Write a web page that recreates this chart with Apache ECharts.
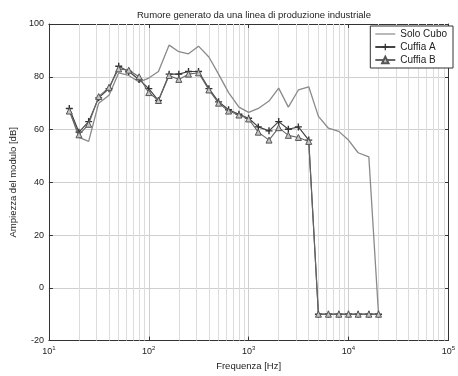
<!DOCTYPE html>
<html><head><meta charset="utf-8">
<script src="https://cdn.jsdelivr.net/npm/echarts@6/dist/echarts.min.js"></script>
<style>html,body{margin:0;padding:0;background:#fff}#c{width:458px;height:376px}</style>
</head><body><div id="c"></div>
<script>
const freqs = [16,20,25,31.5,40,50,63,80,100,125,160,200,250,315,400,500,630,800,1000,1250,1600,2000,2500,3150,4000,5000,6300,8000,10000,12500,16000,20000];
const soloCubo = [67.5,57,55.5,70,73,81.5,80.5,78,79.5,82,92,89.5,88.7,91.6,87.5,81,74,68.5,66.5,68,70.8,75.7,68.5,75,76.2,65,60.5,59.3,56,51.2,49.6,-10];
const cuffiaA = [68,59,63,72,75.5,84,82,79,75.5,71,81,81,82,82,75.5,70.5,67.5,65.8,64.3,61,59.5,63,60.1,61,56,-10,-10,-10,-10,-10,-10,-10];
const cuffiaB = [67,58,62,72.5,76,83,82.5,80,74,71,80.5,79,81,81.5,75,70,67,65.5,64,59,56,60.7,57.8,57,55.5,-10,-10,-10,-10,-10,-10,-10];
const yTicks = [-20,0,20,40,60,80,100];
const minorGrid = [];
[10,100,1000,10000].forEach(d=>{for(let k=2;k<=9;k++) minorGrid.push(k*d);});

const pair = (arr)=>freqs.map((f,i)=>[f,arr[i]]);
const font = '"Liberation Sans", Arial, sans-serif';
const chart = echarts.init(document.getElementById('c'), null, {renderer:'canvas'});
const xCommon = {
  type:'log', logBase:10, min:10, max:100000,
  splitLine:{show:true, lineStyle:{color:'#cfcfcf', width:1}},
  axisLine:{show:true, onZero:false, lineStyle:{color:'#333', width:1}},
  axisTick:{show:true, inside:true, length:4, lineStyle:{color:'#333'}},
};
chart.setOption({
  animation:false,
  backgroundColor:'#fff',
  textStyle:{fontFamily:font},
  title:{text:'Rumore generato da una linea di produzione industriale', left:132, top:5,
    textStyle:{fontSize:9.5, fontWeight:'normal', color:'#222', fontFamily:font}},
  grid:{left:44, right:4, top:24, bottom:28, containLabel:false},
  legend:{
    orient:'vertical', right:5, top:26, itemWidth:20, itemHeight:8, itemGap:3, z:20,
    borderColor:'#333', borderWidth:1, backgroundColor:'#fff', padding:[3,6,3,4],
    textStyle:{fontSize:10, color:'#222', fontFamily:font},
    data:[
      {name:'Solo Cubo', icon:'path://M0,4h20v1.2h-20z', itemStyle:{color:'#8a8a8a'}},
      {name:'Cuffia A'},
      {name:'Cuffia B'}
    ]
  },
  xAxis:[
    Object.assign({}, xCommon, {
      position:'bottom',
      name:'Frequenza [Hz]', nameLocation:'middle', nameGap:19,
      nameTextStyle:{fontSize:9.5, color:'#222', fontFamily:font},
      axisLabel:{show:true, margin:5, color:'#222',
        formatter:(v)=>'{b|10}{s|'+Math.round(Math.log10(v))+'}',
        rich:{b:{fontSize:9, color:'#222', fontFamily:font}, s:{fontSize:6, color:'#222', fontFamily:font, padding:[0,0,6,0]}}}
    }),
    Object.assign({}, xCommon, {position:'top', axisLabel:{show:false}, splitLine:{show:false}})
  ],
  yAxis:[
    {type:'value', min:-20, max:100, interval:20, position:'left',
     name:'Ampiezza del modulo [dB]', nameLocation:'middle', nameGap:29,
     nameTextStyle:{fontSize:9.5, color:'#222', fontFamily:font},
     axisLine:{show:true, lineStyle:{color:'#333'}},
     axisTick:{show:true, inside:true, length:4, lineStyle:{color:'#333'}},
     axisLabel:{fontSize:9, color:'#222', margin:5, formatter:(v)=>yTicks.includes(v)?String(v):''},
     splitLine:{show:true, lineStyle:{color:'#cfcfcf', width:1}}},
    {type:'value', min:-20, max:100, interval:20, position:'right',
     axisLine:{show:true, lineStyle:{color:'#333'}},
     axisTick:{show:true, inside:true, length:4, lineStyle:{color:'#333'}},
     axisLabel:{show:false}, splitLine:{show:false}}
  ],
  series:[
    {name:'Solo Cubo', type:'line', data:pair(soloCubo), symbol:'none', showSymbol:false,
     lineStyle:{color:'#8a8a8a', width:1.3}, itemStyle:{color:'#8a8a8a'},
     markLine:{silent:true, symbol:'none', label:{show:false}, animation:false, z:1,
       lineStyle:{color:'#dcdcdc', width:1, type:'solid'},
       data:minorGrid.map(v=>({xAxis:v}))}, z:3},
    {name:'Cuffia A', type:'line', data:pair(cuffiaA),
     symbol:'path://M4,0h2v4h4v2h-4v4h-2v-4h-4v-2h4z', symbolSize:7,
     lineStyle:{color:'#444', width:1.2}, itemStyle:{color:'#333'}, z:4},
    {name:'Cuffia B', type:'line', data:pair(cuffiaB),
     symbol:'triangle', symbolSize:6,
     lineStyle:{color:'#666', width:1.1}, itemStyle:{color:'#c4c4c4', borderColor:'#555', borderWidth:1}, z:5}
  ]
});
</script></body></html>
